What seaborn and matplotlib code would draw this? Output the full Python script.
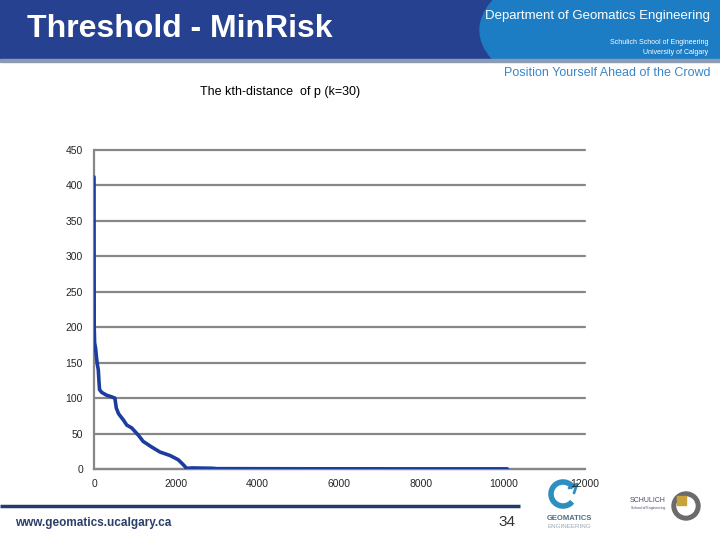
import numpy as np
import pandas as pd
import matplotlib.pyplot as plt
import matplotlib.patches as mpatches
import seaborn as sns

# kth-distance curve (k=30)
point_index = [0, 2, 5, 15, 40, 60, 80, 105, 120, 135, 190, 310, 420, 510, 530, 545,
               600, 720, 800, 920, 1080, 1200, 1410, 1610, 1860, 2060, 2200, 2260,
               2400, 2900, 3000, 5000, 8000, 10100]
kth_distance = [412, 300, 200, 178, 170, 158, 148, 140, 125, 112, 108, 104, 102, 100, 92, 86,
                78, 69, 62, 58, 48, 39, 31, 24, 19, 13, 5, 1, 1.5, 1, 0.5, 0.3, 0.2, 0.2]
x_ticks = [0, 2000, 4000, 6000, 8000, 10000, 12000]
y_ticks = [0, 50, 100, 150, 200, 250, 300, 350, 400, 450]

df = pd.DataFrame({'idx': point_index, 'dist': kth_distance})

sns.set_style('white')
plt.rcParams['font.family'] = ['Liberation Sans', 'DejaVu Sans']

fig = plt.figure(figsize=(7.2, 5.4), dpi=100)

# ---- slide decoration (figure pixel coords) ----
deco = fig.add_axes([0, 0, 1, 1])
deco.set_xlim(0, 720)
deco.set_ylim(540, 0)
deco.axis('off')

deco.add_patch(mpatches.Rectangle((0, 0), 720, 60, color='#25418f', zorder=1))
deco.add_patch(mpatches.Ellipse((640, 30), 320, 150, color='#1c7cc4', zorder=2))
deco.add_patch(mpatches.Rectangle((560, 0), 160, 60, color='#1c7cc4', zorder=2))
deco.add_patch(mpatches.Rectangle((0, 60), 720, 140, color='white', zorder=3))
deco.add_patch(mpatches.Rectangle((0, 59), 720, 3, color='#8d9bb2', zorder=4))

deco.text(27, 29, 'Threshold - MinRisk', color='white', fontsize=23, fontweight='bold',
          ha='left', va='center', zorder=5)
deco.text(710, 16, 'Department of Geomatics Engineering', color='white', fontsize=9.5,
          ha='right', va='center', zorder=5)
deco.text(708, 42, 'Schulich School of Engineering', color='white', fontsize=5,
          ha='right', va='center', zorder=5)
deco.text(708, 52, 'University of Calgary', color='white', fontsize=5,
          ha='right', va='center', zorder=5)
deco.text(710, 73, 'Position Yourself Ahead of the Crowd', color='#3a86c8', fontsize=9,
          ha='right', va='center', zorder=5)

deco.text(280, 92, 'The kth-distance  of p (k=30)', color='black', fontsize=9,
          ha='center', va='center', zorder=5)

# footer
deco.plot([0, 520], [506, 506], color='#223a6c', lw=2.5, solid_capstyle='butt')
deco.text(15, 523, 'www.geomatics.ucalgary.ca', color='#2a3f6a', fontsize=8.5,
          fontweight='bold', ha='left', va='center')
deco.text(507, 522, '34', color='#333333', fontsize=11, ha='center', va='center')

# geomatics logo
deco.add_patch(mpatches.Arc((563, 494), 24, 24, theta1=40, theta2=330, color='#2c8fc0', lw=4))
deco.plot([569, 577, 574], [488, 484, 493], color='#2c8fc0', lw=2)
deco.text(569, 518, 'GEOMATICS', color='#4f6f85', fontsize=5.5, fontweight='bold',
          ha='center', va='center')
deco.text(569, 527, 'ENGINEERING', color='#9aa8b4', fontsize=4.5, ha='center', va='center')

# schulich logo
deco.add_patch(mpatches.Circle((686, 506), 14, color='#6b6b6b'))
deco.add_patch(mpatches.Circle((686, 506), 9, color='white'))
deco.text(648, 501, 'SCHULICH', color='#4a4a6a', fontsize=5, ha='center', va='center')
deco.text(648, 508, 'School of Engineering', color='#4a4a6a', fontsize=2.5,
          ha='center', va='center')
deco.add_patch(mpatches.Rectangle((677, 496), 9, 9, color='#c9a23a'))

# ---- chart ----
ax = fig.add_axes([94 / 720, 71 / 540, 491 / 720, 319 / 540])
ax.set_facecolor('none')
sns.lineplot(data=df, x='idx', y='dist', ax=ax, color='#1c3d9e', linewidth=2.6,
             estimator=None, zorder=3)

ax.set_xlim(0, 12000)
ax.set_ylim(0, 450)
ax.set_xticks(x_ticks)
ax.set_yticks(y_ticks)
ax.set_xlabel('')
ax.set_ylabel('')

ax.grid(axis='y', color='#878787', linewidth=1.6)
ax.set_axisbelow(True)
for gl in ax.get_ygridlines():
    gl.set_clip_on(False)
for side in ['top', 'right']:
    ax.spines[side].set_visible(False)
for side in ['left', 'bottom']:
    ax.spines[side].set_color('#878787')
    ax.spines[side].set_linewidth(1.6)

ax.tick_params(axis='x', length=2.5, width=1, color='#878787', pad=5, labelsize=7.5)
ax.tick_params(axis='y', length=2, width=1, color='#878787', pad=6, labelsize=7.5)

plt.savefig('out.png', dpi=100)
